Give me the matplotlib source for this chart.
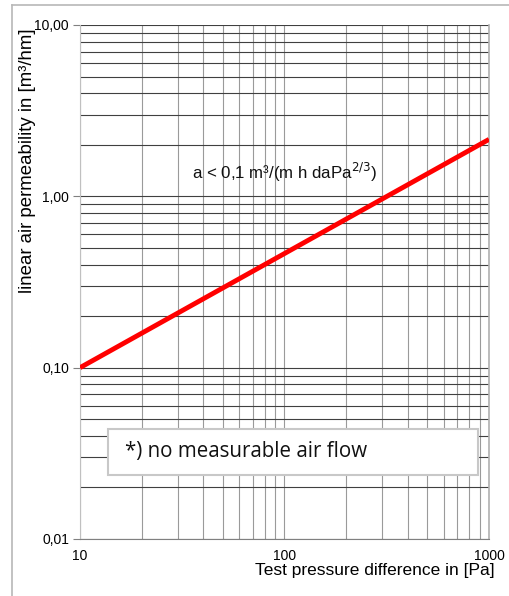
import matplotlib
matplotlib.use("Agg")
import matplotlib.pyplot as plt
from matplotlib.ticker import FixedLocator, FixedFormatter, NullFormatter
from matplotlib.lines import Line2D
from matplotlib.patches import Rectangle

plt.rcParams["font.family"] = ["Liberation Sans", "DejaVu Sans"]

pressure = [10, 1000]
permeability = [0.10, 2.15]
y_ticks = [0.01, 0.1, 1, 10]
y_labels = ["0,01", "0,10", "1,00", "10,00"]
x_ticks = [10, 100, 1000]
x_labels = ["10", "100", "1000"]

W, H = 510, 596
fig = plt.figure(figsize=(W/100, H/100), dpi=100)
fig.add_artist(Line2D([12/W, 12/W], [0, 1-5/H], color="#b8b8b8", lw=1.2))
fig.add_artist(Line2D([12/W, 1], [1-5/H, 1-5/H], color="#b8b8b8", lw=1.2))

ax = fig.add_axes([80/W, 1-539/H, (489-80)/W, (539-25)/H])
ax.set_xscale("log")
ax.set_yscale("log")
ax.set_xlim(10, 1000)
ax.set_ylim(0.01, 10)

ax.yaxis.set_major_locator(FixedLocator(y_ticks))
ax.yaxis.set_major_formatter(FixedFormatter(y_labels))
ax.yaxis.set_minor_formatter(NullFormatter())
ax.xaxis.set_major_locator(FixedLocator(x_ticks))
ax.xaxis.set_major_formatter(FixedFormatter(x_labels))
ax.xaxis.set_minor_formatter(NullFormatter())

ax.grid(True, which="both", axis="y", color="#404040", lw=0.8)
ax.grid(True, which="both", axis="x", color="#9a9a9a", lw=0.8)
ax.set_axisbelow(True)

ax.spines["top"].set_visible(False)
ax.spines["right"].set_color("#b0b0b0")
ax.spines["right"].set_linewidth(1.2)
ax.spines["left"].set_color("#c0c0c0")
ax.spines["bottom"].set_color("#808080")
ax.tick_params(axis="y", which="major", length=5, color="#808080", labelsize=10, pad=3)
ax.tick_params(axis="y", which="minor", length=0)
ax.tick_params(axis="x", which="both", length=0, labelsize=10, pad=7)

ax.plot(pressure, permeability, color="#ff0000", lw=3.5, solid_capstyle="butt", zorder=5)

ax.text(0.5, 0.714, "a < 0,1 m³/(m h daPa$^{2/3}$)", transform=ax.transAxes,
        ha="center", va="center", fontsize=12.2, color="#111111")

x0, x1 = (108-80)/409, (478-80)/409
y0, y1 = (539-475)/514, (539-429)/514
ax.add_patch(Rectangle((x0, y0), x1-x0, y1-y0, transform=ax.transAxes,
                       fc="white", ec="#c8c8c8", lw=1.5, zorder=6))
ax.text((125-80)/409, (y0+y1)/2, "*) no measurable air flow", transform=ax.transAxes,
        ha="left", va="center", fontsize=14.8, family="Open Sans", color="#111111", zorder=7)

fig.text(28/W, 1-161/H, "linear air permeability in [m³/hm]", rotation=90,
         ha="center", va="center", fontsize=13.4)
fig.text(495/W, 1-571/H, "Test pressure difference in [Pa]", ha="right", va="center", fontsize=12.5)

fig.savefig("out.png", dpi=100)
